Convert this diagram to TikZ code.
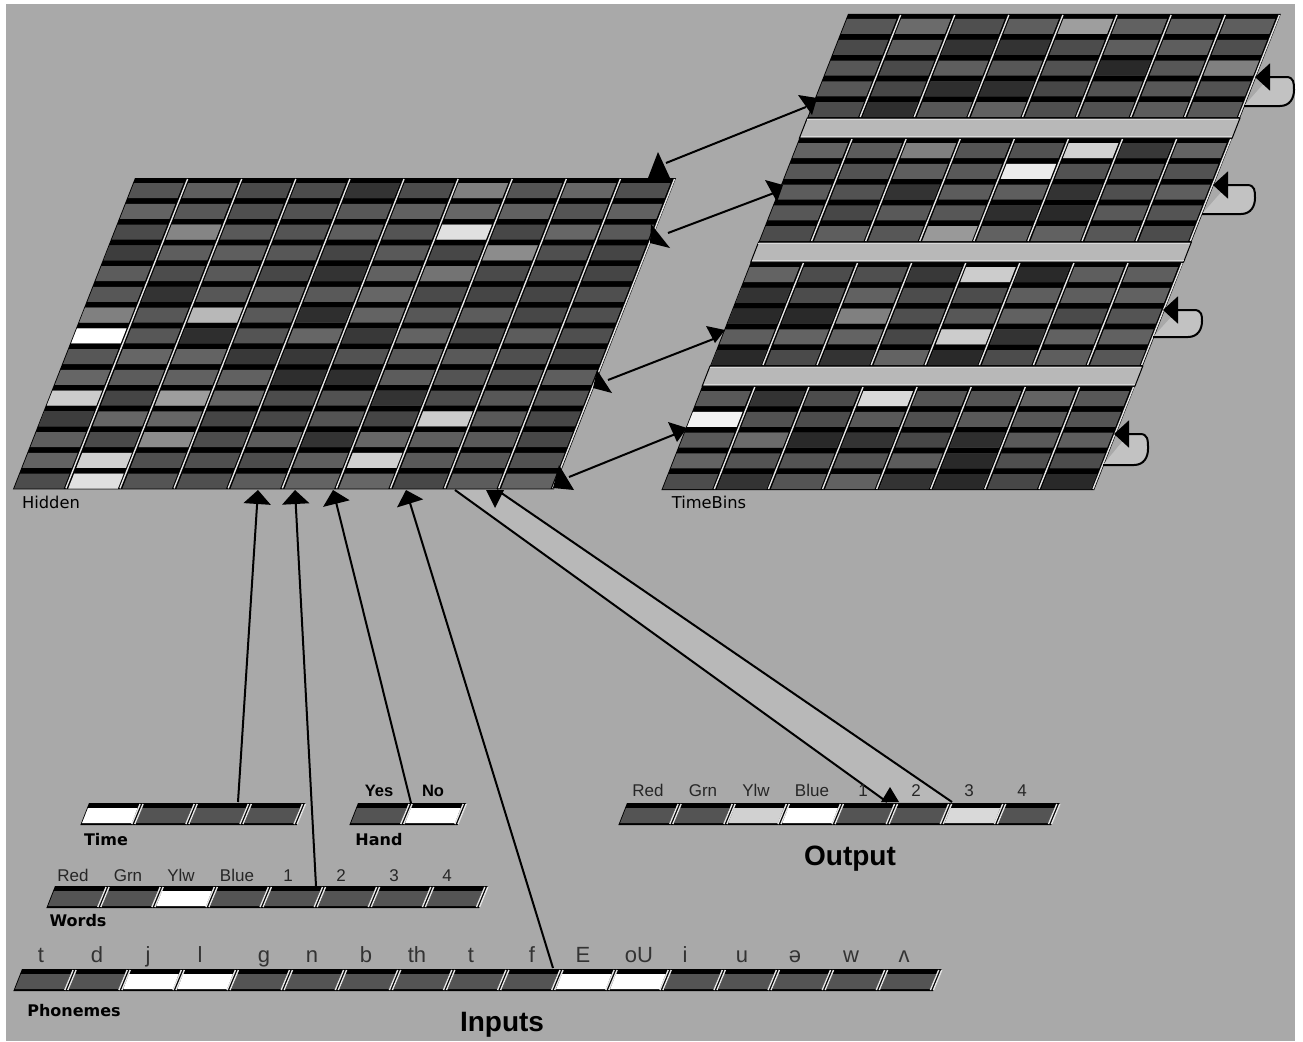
\documentclass[tikz,border=0pt]{standalone}
\usepackage{fontspec}
\usetikzlibrary{arrows.meta}
\setmainfont{Liberation Sans}
\newfontfamily\pixfont{DejaVu Sans}
\newcommand{\panelslant}{0.392}
\newcommand{\cellpitch}{54.1}
% #1 x, #2 y of the panel corner, #3 row height, #4 column, #5 row, #6 colour
\newcommand{\unitcell}[6]{%
  \pgfmathsetmacro\celly{#2+(#5-1)*#3}
  \pgfmathsetmacro\cellx{#1+(#4-1)*\cellpitch-(\celly-#2)*\panelslant}
  \fill[#6] (\cellx-1,\celly+5) -- ++(49.5,0) -- ++(-5.9,15) -- ++(-49.5,0) -- cycle;
}
% #1 x, #2 y, #3 columns, #4 rows, #5 row height, #6 spread of shades, #7 offsets of separators
\newcommand{\unitpanel}[7]{%
  \pgfmathsetmacro\panelh{#4*#5}
  \pgfmathsetmacro\panelw{#3*\cellpitch}
  \fill[black] (#1,#2) -- ++(\panelw,0) -- ++(-\panelh*\panelslant,\panelh) -- ++(-\panelw,0) -- cycle;
  \foreach \rr in {1,...,#4}{
    \foreach \cc in {1,...,#3}{
      \pgfmathtruncatemacro\shade{67+#6*(rnd-0.5)}
      \unitcell{#1}{#2}{#5}{\cc}{\rr}{black!\shade}
    }
  }
  \foreach \cc in {1,...,#3}{
    \foreach \off in {#7}{
      \draw[sepline] (#1+\cc*\cellpitch-\off,#2+1) -- ++(-\panelh*\panelslant+0.8*\panelslant,\panelh-2);
    }
  }
}
\tikzset{
  sepline/.style={white!90!black,line width=1.4pt},
  connline/.style={black,line width=2pt},
  inarrow/.style={connline,-{Triangle[length=14pt,width=27pt]}},
  loopline/.style={black,line width=2pt,fill=loopgray,-{Triangle[length=15pt,width=27pt]}},
  unitlabel/.style={inner sep=0pt,anchor=base,text=black!85,font=\fontsize{17}{20}\selectfont},
  phonelabel/.style={inner sep=0pt,anchor=base,text=black!80,font=\fontsize{22}{26}\selectfont},
  yeslabel/.style={inner sep=0pt,anchor=base,font=\bfseries\fontsize{16.5}{20}\selectfont},
  layerlabel/.style={inner sep=0pt,anchor=base,font=\pixfont\bfseries\fontsize{16}{20}\selectfont},
  gridlabel/.style={inner sep=0pt,anchor=base,font=\pixfont\fontsize{16.3}{20}\selectfont},
  titlelabel/.style={inner sep=0pt,anchor=base,font=\bfseries\fontsize{28}{32}\selectfont}
}
\definecolor{bggray}{HTML}{A9A9A9}
\definecolor{bandgray}{HTML}{B8B8B8}
\definecolor{loopgray}{HTML}{C2C2C2}
\begin{document}
\begin{tikzpicture}[x=1pt,y=-1pt]
\pgfmathsetseed{41}
\useasboundingbox (0,0) rectangle (1303,1041);
\fill[white] (0,0) rectangle (1303,1041);
\fill[bggray] (6,4) rectangle (1295,1041);
\coordinate (bandA) at (455,490);
\coordinate (bandB) at (497,490);
\coordinate (bandC) at (952,802);
\coordinate (bandD) at (887,802);
\fill[bandgray] (bandA) -- (bandB) -- (bandC) -- (bandD) -- cycle;
\draw[connline] (bandA) -- (bandD);
\draw[connline] (bandB) -- (bandC);
\unitpanel{135}{178}{10}{15}{20.75}{14}{1.5}
\foreach \cc/\rr/\sh in {2/3/48,1/7/50,3/7/28,1/8/0,1/11/20,3/11/38,3/13/45,2/14/18,2/15/12,7/1/50,7/3/12,8/4/45,7/5/55,8/12/20,7/14/18,2/6/80,3/8/82,1/4/76,1/12/76,5/5/80,5/7/82,4/9/78,5/9/78,5/10/82,6/10/82,7/11/80,6/8/78,5/1/80,6/13/80}{
  \unitcell{135}{178}{20.75}{\cc}{\rr}{black!\sh}
}
\unitpanel{848}{14}{8}{5}{20.8}{12}{1.5}
\unitpanel{799.4}{138}{8}{5}{20.8}{12}{1.5}
\unitpanel{750.8}{262}{8}{5}{20.8}{12}{1.5}
\unitpanel{702.2}{386}{8}{5}{20.8}{12}{1.5}
\foreach \cc/\rr/\sh in {5/1/38,2/1/58,3/2/80,4/2/80,6/3/84,8/3/50,3/4/82,4/4/82,2/5/82}{
  \unitcell{848}{14}{20.8}{\cc}{\rr}{black!\sh}
}
\foreach \cc/\rr/\sh in {6/1/18,3/1/50,5/2/8,3/3/80,6/3/80,5/4/82,6/4/84,4/5/40,7/1/78}{
  \unitcell{799.4}{138}{20.8}{\cc}{\rr}{black!\sh}
}
\foreach \cc/\rr/\sh in {5/1/20,4/1/78,6/1/84,3/3/50,1/3/84,2/3/84,5/4/20,1/2/80,1/5/84,3/5/80,5/5/84,6/4/80}{
  \unitcell{750.8}{262}{20.8}{\cc}{\rr}{black!\sh}
}
\foreach \cc/\rr/\sh in {4/1/15,1/2/5,2/3/58,3/3/84,4/3/80,6/3/82,6/4/84,2/5/80,5/5/80,6/5/84,8/5/84,2/1/80}{
  \unitcell{702.2}{386}{20.8}{\cc}{\rr}{black!\sh}
}
\foreach \ty in {118,242,366}{
  \pgfmathsetmacro\tx{848-(\ty-14)*\panelslant}
  \fill[bandgray,draw=black,line width=1pt] (\tx,\ty) -- ++(432.8,0) -- ++(-7.8,20) -- ++(-432.8,0) -- cycle;
  \draw[white!85!black,line width=1.2pt] (\tx-0.5,\ty+1.5) -- ++(431.5,0);
  \draw[white!85!black,line width=1.2pt] (\tx-6.5,\ty+18.5) -- ++(431.5,0);
}
\foreach \sx/\by/\rx/\ty/\tipx in {1244/106/1294/77/1255,1202/214/1255/185/1213,1153/337/1202/310/1163,1103/465/1148/434/1114}{
  \draw[loopline] (\sx,\by) -- (\rx-14,\by) .. controls (\rx-4,\by) and (\rx,\by-8) .. (\rx,\by-16) .. controls (\rx,\ty+6) and (\rx,\ty) .. (\rx-8,\ty) -- (\tipx,\ty);
}
\unitpanel{89}{803}{4}{1}{22}{0}{0,3}
\unitcell{89}{803}{22}{1}{1}{white}
\unitpanel{358}{803}{2}{1}{22}{0}{0,3}
\unitcell{358}{803}{22}{2}{1}{white}
\unitpanel{55}{886}{8}{1}{22}{0}{0,3}
\unitcell{55}{886}{22}{3}{1}{white}
\unitpanel{22}{969}{17}{1}{22}{0}{0,3}
\foreach \cc in {3,4,11,12}{
  \unitcell{22}{969}{22}{\cc}{1}{white}
}
\unitpanel{627}{803}{8}{1}{22}{0}{0,3}
\unitcell{627}{803}{22}{3}{1}{black!18}
\unitcell{627}{803}{22}{4}{1}{white}
\unitcell{627}{803}{22}{7}{1}{black!15}
\coordinate (timeTop) at (238,802);
\coordinate (wordsTop) at (316,886);
\coordinate (handTop) at (411,803);
\coordinate (phonesTop) at (553,968);
\coordinate (hiddenA) at (258,490);
\coordinate (hiddenB) at (295,490);
\coordinate (hiddenC) at (333,490);
\coordinate (hiddenD) at (406,490);
\draw[inarrow] (timeTop) -- (hiddenA);
\draw[inarrow] (wordsTop) -- (hiddenB);
\draw[inarrow] (handTop) -- (hiddenC);
\draw[inarrow] (phonesTop) -- (hiddenD);
\fill[black] (486,490) -- (504,490) -- (495,508) -- cycle;
\fill[black] (881,802) -- (899,802) -- (890,787) -- cycle;
\coordinate (hiddenE) at (666,163);
\coordinate (hiddenF) at (668,233);
\coordinate (hiddenG) at (608,380);
\coordinate (hiddenH) at (569,477);
\coordinate (binsA) at (806,107);
\coordinate (binsB) at (774,193);
\coordinate (binsC) at (716,338);
\coordinate (binsD) at (678,433);
\draw[connline] (hiddenE) -- (binsA);
\draw[connline] (hiddenF) -- (binsB);
\draw[connline] (hiddenG) -- (binsC);
\draw[connline] (hiddenH) -- (binsD);
\fill[black] (658,152) -- (648,178) -- (670,178) -- cycle;
\fill[black] (651,224) -- (650,243) -- (670,248) -- cycle;
\fill[black] (597,370) -- (593,388) -- (612,393) -- cycle;
\fill[black] (559,465) -- (553,488) -- (574,490) -- cycle;
\fill[black] (798,95) -- (817,98) -- (812,115) -- cycle;
\fill[black] (765,180) -- (783,185) -- (777,202) -- cycle;
\fill[black] (706,326) -- (725,330) -- (715,343) -- cycle;
\fill[black] (668,422) -- (687,428) -- (677,442) -- cycle;
\foreach \lab/\xx [count=\lnum] in {Red/73,Grn/128,Ylw/181,Blue/237,1/288,2/341,3/394,4/447}{
  \node[unitlabel] (wordname\lnum) at (\xx,881) {\lab};
}
\foreach \lab/\xx [count=\lnum] in {Red/648,Grn/703,Ylw/756,Blue/812,1/863,2/916,3/969,4/1022}{
  \node[unitlabel] (outname\lnum) at (\xx,796) {\lab};
}
\foreach \lab/\xx [count=\lnum] in {t/41,d/97,j/148,l/200,g/264,n/312,b/366,th/417,t/471,f/532,E/583,oU/639,i/685,u/742,ə/795,w/851,ʌ/904}{
  \node[phonelabel] (phone\lnum) at (\xx,962) {\lab};
}
\node[yeslabel] (yesname) at (379,796) {Yes};
\node[yeslabel] (noname) at (433,796) {No};
\node[layerlabel] (timename) at (106,845) {Time};
\node[layerlabel] (handname) at (379,845) {Hand};
\node[layerlabel] (wordsname) at (78,926) {Words};
\node[layerlabel] (phonemesname) at (74,1016) {Phonemes};
\node[gridlabel] (hiddenname) at (51,508) {Hidden};
\node[gridlabel] (binsname) at (709,508) {TimeBins};
\node[titlelabel] (inputsname) at (502,1031) {Inputs};
\node[titlelabel] (outputname) at (850,865) {Output};
\end{tikzpicture}
\end{document}
